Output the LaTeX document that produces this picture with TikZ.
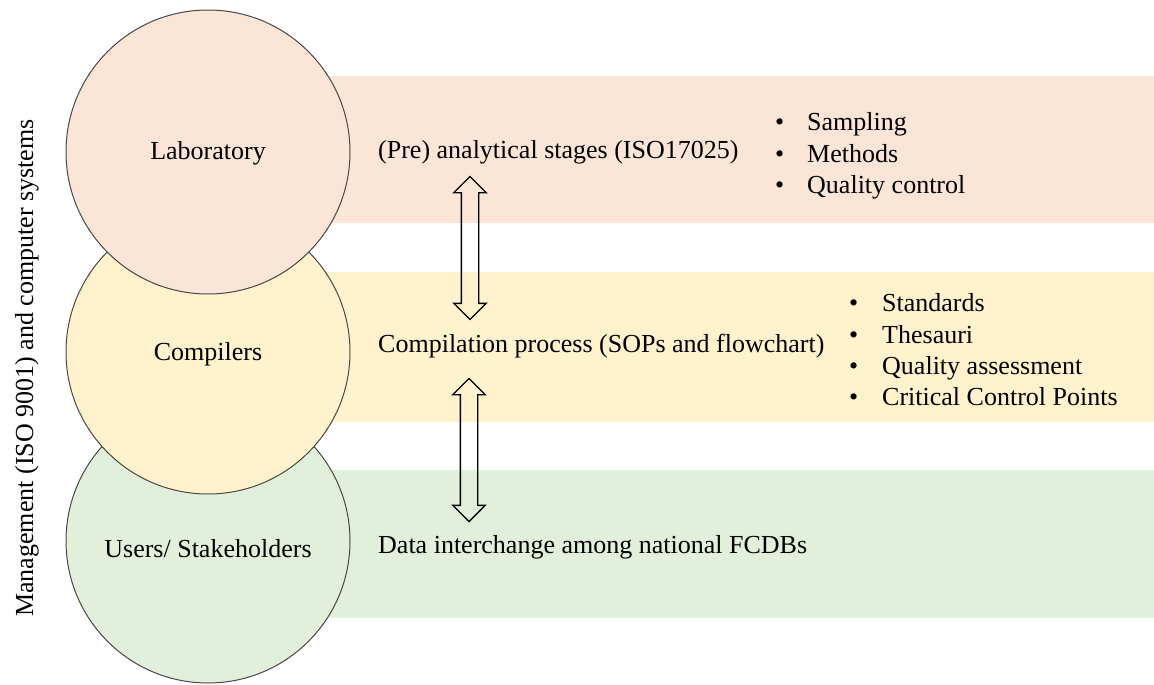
\documentclass[tikz,border=0pt]{standalone}
\usepackage{fontspec}
\setmainfont{Liberation Serif}
\usetikzlibrary{shapes.arrows}
\definecolor{labpink}{RGB}{251,229,214}
\definecolor{compyellow}{RGB}{255,242,204}
\definecolor{usergreen}{RGB}{226,239,218}
\definecolor{rimgray}{RGB}{70,70,70}

\begin{document}
\begin{tikzpicture}[x=1pt,y=-1pt,font=\fontsize{26}{31}\selectfont,
  actor/.style={circle,draw=rimgray,line width=1pt,minimum size=284pt,inner sep=0pt},
  stage/.style={anchor=base west,inner sep=0pt},
  flow/.style={double arrow,draw=black,line width=1.4pt,shape border rotate=90,
    inner sep=8pt,minimum height=143pt,double arrow head extend=7.5pt}]
  \useasboundingbox (0,0) rectangle (1154,685);

  % Bands
  \fill[usergreen] (208,470) rectangle (1154,618);
  \fill[compyellow] (208,272) rectangle (1154,422);
  \fill[labpink] (208,76) rectangle (1154,223);

  % Circles
  \node[actor,fill=usergreen] (users) at (208,541) {};
  \node[actor,fill=compyellow] (comp) at (208,352) {};
  \node[actor,fill=labpink] (lab) at (208,152) {};
  \node[stage,anchor=base] (labtxt) at (208,159) {Laboratory};
  \node[stage,anchor=base] (comptxt) at (208,360) {Compilers};
  \node[stage,anchor=base] (usertxt) at (208,557) {Users/ Stakeholders};

  % Stages
  \node[stage] (pre) at (378,158) {(Pre) analytical stages (ISO17025)};
  \node[stage] (compil) at (378,352) {Compilation process (SOPs and flowchart)};
  \node[stage] (inter) at (378,553) {Data interchange among national FCDBs};

  % Arrows
  \node[flow] (arrA) at (470,248) {};
  \node[flow] (arrB) at (469,450) {};

  % Lists
  \foreach \y/\txt [count=\i] in {130/Sampling, 162/Methods, 193/Quality control} {
    \node[stage] (labb\i) at (775,\y) {\textbullet};
    \node[stage] (labi\i) at (807,\y) {\txt};
  }
  \foreach \y/\txt [count=\i] in {311/Standards, 343/Thesauri, 374/Quality assessment, 405/Critical Control Points} {
    \node[stage] (compb\i) at (849,\y) {\textbullet};
    \node[stage] (compi\i) at (882,\y) {\txt};
  }

  % Side label
  \node[stage,rotate=90] (mgmt) at (33,617) {Management (ISO 9001) and computer systems};
\end{tikzpicture}
\end{document}
